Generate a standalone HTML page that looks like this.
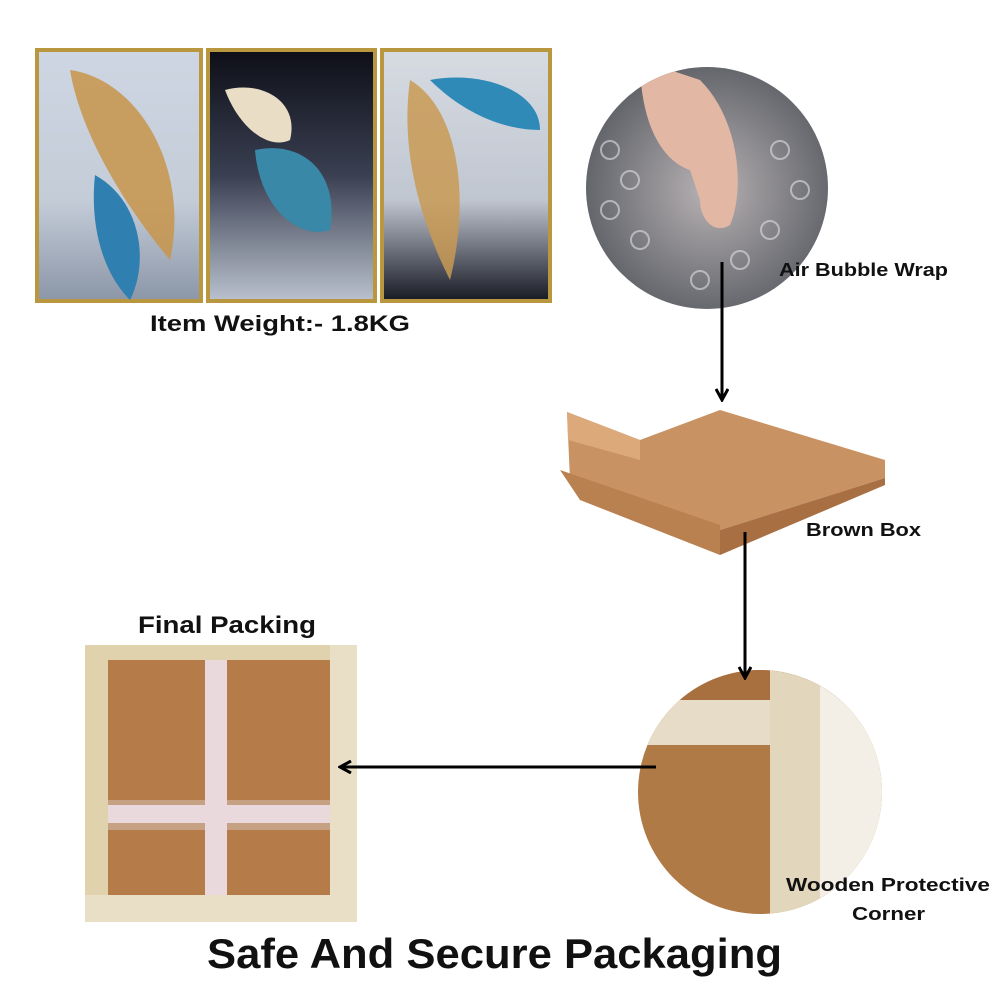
<!DOCTYPE html>
<html><head><meta charset="utf-8"><style>
html,body{margin:0;padding:0;background:#fff;width:1000px;height:1000px;overflow:hidden}
svg text{font-family:"Liberation Sans",sans-serif;font-weight:bold;fill:#111}
</style></head><body>
<svg width="1000" height="1000" viewBox="0 0 1000 1000" xmlns="http://www.w3.org/2000/svg">
<defs>
<linearGradient id="p1" x1="0" y1="0" x2="0" y2="1"><stop offset="0" stop-color="#cdd6e2"/><stop offset="0.6" stop-color="#c4ccd8"/><stop offset="1" stop-color="#8c97a8"/></linearGradient>
<linearGradient id="p2" x1="0" y1="0" x2="0" y2="1"><stop offset="0" stop-color="#0e0f18"/><stop offset="0.5" stop-color="#3a4052"/><stop offset="1" stop-color="#b9c0cc"/></linearGradient>
<linearGradient id="p3" x1="0" y1="0" x2="0" y2="1"><stop offset="0" stop-color="#d6dbe2"/><stop offset="0.6" stop-color="#c0c6d0"/><stop offset="1" stop-color="#1a1c26"/></linearGradient>
<radialGradient id="bw" cx="0.5" cy="0.5" r="0.5"><stop offset="0" stop-color="#b8b2b4"/><stop offset="1" stop-color="#5f6268"/></radialGradient>
<marker id="ah" markerWidth="14" markerHeight="14" refX="11" refY="7" orient="auto" markerUnits="userSpaceOnUse"><path d="M1,1 L12,7 L1,13" fill="none" stroke="#000" stroke-width="3"/></marker>
<clipPath id="c1"><circle cx="707" cy="188" r="121"/></clipPath>
<clipPath id="c2"><circle cx="760" cy="792" r="122"/></clipPath>
</defs>

<rect x="35" y="48" width="168" height="255" fill="#b8973f"/>
<rect x="39" y="52" width="160" height="247" fill="url(#p1)"/>
<rect x="206" y="48" width="171" height="255" fill="#b8973f"/>
<rect x="210" y="52" width="163" height="247" fill="url(#p2)"/>
<rect x="380" y="48" width="172" height="255" fill="#b8973f"/>
<rect x="384" y="52" width="164" height="247" fill="url(#p3)"/>
<path d="M70,70 C140,80 190,170 170,260 C120,200 80,130 70,70Z" fill="#c8944a" opacity="0.85"/>
<path d="M95,175 C140,200 150,260 130,300 C100,270 90,220 95,175Z" fill="#2f7fb0"/>
<path d="M225,90 C260,80 300,100 290,140 C270,150 240,130 225,90Z" fill="#e9ddc6"/>
<path d="M255,150 C300,140 340,170 330,230 C300,240 260,210 255,150Z" fill="#3a88a8"/>
<path d="M410,80 C460,110 470,200 450,280 C420,220 400,150 410,80Z" fill="#c99a55" opacity="0.85"/>
<path d="M430,80 C480,70 540,90 540,130 C500,130 460,110 430,80Z" fill="#2f8ab8"/>

<text x="150" y="331" font-size="22" textLength="260" lengthAdjust="spacingAndGlyphs">Item Weight:- 1.8KG</text>

<g clip-path="url(#c1)">
<rect x="580" y="60" width="260" height="260" fill="url(#bw)"/>
<g fill="none" stroke="#dfe0e4" stroke-width="2" opacity="0.6">
<circle cx="610" cy="150" r="9"/><circle cx="630" cy="180" r="9"/><circle cx="610" cy="210" r="9"/><circle cx="640" cy="240" r="9"/><circle cx="780" cy="150" r="9"/><circle cx="800" cy="190" r="9"/><circle cx="770" cy="230" r="9"/><circle cx="740" cy="260" r="9"/><circle cx="700" cy="280" r="9"/>
</g>
<path d="M640,60 L700,80 C740,120 745,190 730,225 C715,235 700,220 700,200 L690,170 C660,160 640,120 640,60Z" fill="#e2b7a4"/>
</g>
<text x="779" y="276" font-size="18" textLength="169" lengthAdjust="spacingAndGlyphs">Air Bubble Wrap</text>

<path d="M567,412 L640,440 L720,410 L885,460 L885,478 L720,530 L570,480Z" fill="#c99263"/>
<path d="M567,412 L640,440 L640,460 L568,440Z" fill="#dba97a"/>
<path d="M560,470 L720,525 L720,555 L580,500Z" fill="#b98050"/>
<path d="M720,530 L885,478 L885,485 L720,555Z" fill="#a86f42"/>
<text x="806" y="536" font-size="18" textLength="115" lengthAdjust="spacingAndGlyphs">Brown Box</text>

<g clip-path="url(#c2)">
<rect x="630" y="670" width="260" height="250" fill="#b07a46"/>
<rect x="630" y="670" width="260" height="30" fill="#a8703e"/>
<rect x="630" y="700" width="150" height="45" fill="#e6dcc8"/>
<rect x="770" y="670" width="50" height="250" fill="#e2d6bc"/>
<rect x="820" y="670" width="70" height="250" fill="#f3efe6"/>
</g>
<text x="786" y="891" font-size="18" textLength="204" lengthAdjust="spacingAndGlyphs">Wooden Protective</text>
<text x="852" y="920" font-size="18" textLength="73" lengthAdjust="spacingAndGlyphs">Corner</text>

<text x="138" y="633" font-size="24" textLength="178" lengthAdjust="spacingAndGlyphs">Final Packing</text>
<rect x="85" y="645" width="272" height="277" fill="#e0d2ad"/>
<rect x="108" y="660" width="224" height="235" fill="#b57b48"/>
<rect x="108" y="800" width="224" height="30" fill="#c8a58a" opacity="0.9"/>
<rect x="205" y="660" width="22" height="235" fill="#ead9dc"/>
<rect x="108" y="805" width="224" height="18" fill="#ead9dc"/>
<rect x="85" y="895" width="272" height="27" fill="#e9dfc6"/>
<rect x="330" y="645" width="27" height="277" fill="#e9dfc6"/>

<text x="207" y="968" font-size="42" textLength="575" lengthAdjust="spacingAndGlyphs">Safe And Secure Packaging</text>

<line x1="722" y1="262" x2="722" y2="399" stroke="#000" stroke-width="3" marker-end="url(#ah)"/>
<line x1="745" y1="532" x2="745" y2="677" stroke="#000" stroke-width="3" marker-end="url(#ah)"/>
<line x1="656" y1="767" x2="341" y2="767" stroke="#000" stroke-width="3" marker-end="url(#ah)"/>
</svg>
</body></html>
